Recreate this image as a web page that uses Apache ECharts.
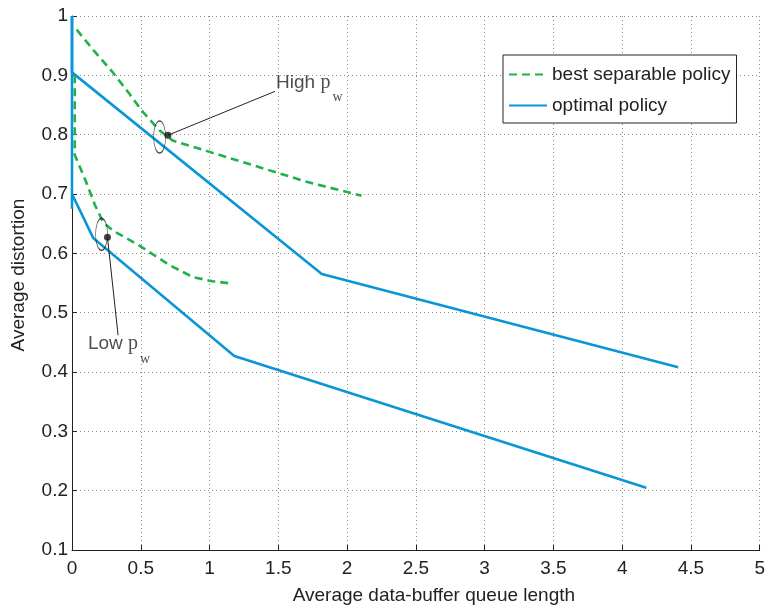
<!DOCTYPE html>
<html>
<head>
<meta charset="utf-8">
<script src="https://cdn.jsdelivr.net/npm/echarts@6/dist/echarts.min.js"></script>
<style>
  html, body { margin: 0; padding: 0; background: #fff; }
  #chart { width: 768px; height: 610px; }
</style>
</head>
<body>
<div id="chart"></div>
<script>
// ---- data ----
const seriesNames = ['best separable policy', 'optimal policy'];

const bestHigh = [[0.034,0.977],[0.154,0.943],[0.30,0.904],[0.42,0.868],[0.516,0.838],[0.637,0.807],[0.733,0.79],[1.0,0.771],[1.31,0.749],[1.70,0.721],[2.105,0.697]];
const bestLow  = [[0.02,0.90],[0.02,0.766],[0.10,0.722],[0.166,0.682],[0.227,0.652],[0.30,0.638],[0.49,0.613],[0.71,0.58],[0.878,0.56],[1.02,0.553],[1.167,0.549]];
const optHigh  = [[0,1.0],[0,0.905],[1.816,0.565],[4.407,0.408]];
const optLow   = [[0,1.0],[0,0.675],[0,0.70],[0.154,0.626],[1.18,0.427],[4.175,0.205]];

const ellipseCenters = [[0.637,0.796],[0.215,0.632]];
const markerDots = [[0.697,0.799],[0.258,0.627]];
const leaderHigh = [[0.697,0.799],[1.476,0.873]];
const leaderLow  = [[0.258,0.627],[0.335,0.462]];
const labelHighPos = [[1.48,0.888]];
const labelLowPos  = [[0.112,0.447]];
const labelHighText = 'High';
const labelLowText = 'Low';

const xMin = 0, xMax = 5, xStep = 0.5;
const yMin = 0.1, yMax = 1, yStep = 0.1;

// ---- styles ----
const BLUE = '#0a96d6';
const GREEN = '#1fb24a';
const TXT = '#222222';
const FONT = '"Liberation Sans", Arial, Helvetica, sans-serif';
const SERIF = '"Liberation Serif", "Times New Roman", serif';
const FS = 19;

const chart = echarts.init(document.getElementById('chart'), null, { renderer: 'canvas' });

function lineSeries(name, data, color, dashed) {
  return {
    name: name, type: 'line', data: data, showSymbol: false, symbol: 'emptyCircle',
    clip: false, silent: true, animation: false,
    lineStyle: { color: color, width: 2.6, type: dashed ? [8, 5] : 'solid' },
    itemStyle: { color: color }, z: dashed ? 3 : 2
  };
}

function labelSeries(pos, word) {
  return {
    type: 'scatter', data: pos, symbolSize: 1, silent: true, animation: false,
    itemStyle: { color: 'rgba(0,0,0,0)' },
    label: {
      show: true, position: 'right', distance: 0,
      formatter: '{t|' + word + ' }{p|p}{s|w}',
      rich: {
        t: { fontFamily: FONT, fontSize: FS, color: TXT, lineHeight: 24, verticalAlign: 'middle' },
        p: { fontFamily: SERIF, fontSize: 20, color: TXT, lineHeight: 24, verticalAlign: 'middle' },
        s: { fontFamily: SERIF, fontSize: 14, color: TXT, lineHeight: 24, verticalAlign: 'bottom', padding: [0, 0, -10, 2] }
      }
    }
  };
}

const option = {
  backgroundColor: '#fff',
  animation: false,
  grid: { left: 72, right: 5, top: 16, bottom: 54, containLabel: false },
  legend: {
    data: seriesNames.map(n => ({ name: n })),
    orient: 'vertical', left: 503, top: 55,
    padding: [10, 6, 8, 5], itemGap: 12, itemWidth: 38, itemHeight: 14,
    borderColor: '#222', borderWidth: 1, backgroundColor: '#fff',
    itemStyle: { opacity: 0 },
    textStyle: { fontFamily: FONT, fontSize: FS, color: TXT },
    selectedMode: false
  },
  xAxis: {
    type: 'value', min: xMin, max: xMax, interval: xStep,
    name: 'Average data-buffer queue length', nameLocation: 'middle', nameGap: 36,
    nameTextStyle: { fontFamily: FONT, fontSize: FS, color: TXT, padding: [0, 0, 0, 36] },
    axisLine: { show: true, onZero: false, lineStyle: { color: '#222', width: 1 } },
    axisTick: { show: true, inside: true, length: 5, lineStyle: { color: '#222' } },
    axisLabel: { fontFamily: FONT, fontSize: FS, color: TXT, margin: 9 },
    splitLine: { show: true, lineStyle: { color: '#8a8a8a', width: 1, type: [1, 3] } }
  },
  yAxis: {
    type: 'value', min: yMin, max: yMax, interval: yStep,
    name: 'Average distortion', nameLocation: 'middle', nameGap: 44, nameRotate: 90,
    nameTextStyle: { fontFamily: FONT, fontSize: FS, color: TXT, padding: [0, 0, 0, 16] },
    axisLine: { show: true, onZero: false, lineStyle: { color: '#222', width: 1 } },
    axisTick: { show: true, inside: true, length: 5, lineStyle: { color: '#222' } },
    axisLabel: { fontFamily: FONT, fontSize: FS, color: TXT, margin: 4 },
    splitLine: { show: true, lineStyle: { color: '#8a8a8a', width: 1, type: [1, 3] } }
  },
  series: [
    lineSeries(seriesNames[0], bestHigh, GREEN, true),
    lineSeries(seriesNames[0], bestLow, GREEN, true),
    lineSeries(seriesNames[1], optHigh, BLUE, false),
    lineSeries(seriesNames[1], optLow, BLUE, false),
    {
      type: 'scatter', data: ellipseCenters, symbol: 'circle', symbolSize: [12, 32],
      silent: true, animation: false, z: 5,
      itemStyle: { color: 'rgba(0,0,0,0)', borderColor: '#222', borderWidth: 1 }
    },
    { type: 'line', data: leaderHigh, symbol: 'none', silent: true, animation: false, z: 6,
      lineStyle: { color: '#222', width: 1 } },
    { type: 'line', data: leaderLow, symbol: 'none', silent: true, animation: false, z: 6,
      lineStyle: { color: '#222', width: 1 } },
    {
      type: 'scatter', data: markerDots, symbol: 'circle', symbolSize: 7,
      silent: true, animation: false, z: 7, itemStyle: { color: '#111' }
    },
    labelSeries(labelHighPos, labelHighText),
    labelSeries(labelLowPos, labelLowText)
  ]
};

chart.setOption(option);
</script>
</body>
</html>
